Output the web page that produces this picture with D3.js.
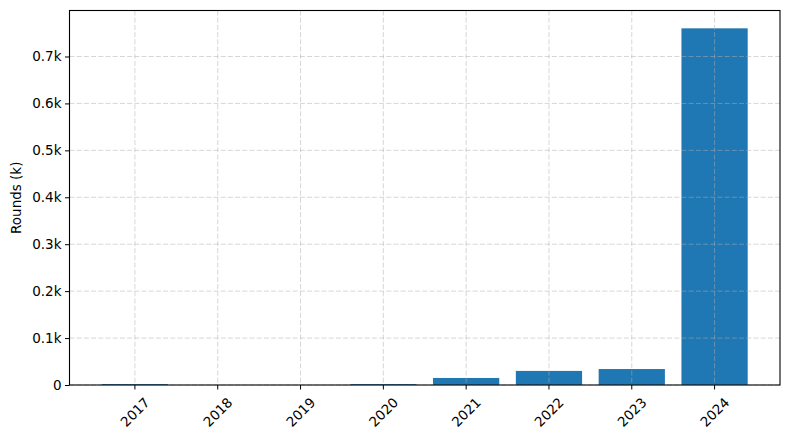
<!DOCTYPE html>
<html>
<head>
<meta charset="utf-8">
<script src="https://cdn.jsdelivr.net/npm/d3@7"></script>
<style>
  body { margin: 0; background: #fff; }
  text { font-family: "DejaVu Sans", sans-serif; }
</style>
</head>
<body>
<div id="chart"></div>
<script>
// data
var years = ["2017", "2018", "2019", "2020", "2021", "2022", "2023", "2024"];
var rounds = [2, 0, 0, 2, 15, 30, 34, 760];
var yTicks = [0, 100, 200, 300, 400, 500, 600, 700];

// set the dimensions and margins of the graph
var W = 790, H = 440;
var margin = {top: 10.5, right: 10, bottom: 55, left: 69.5},
    width = 780 - margin.left,
    height = 385 - margin.top;
var fs = "13.5px";

var svg = d3.select("#chart")
  .append("svg")
    .attr("width", W)
    .attr("height", H)
  .append("g")
    .attr("transform", "translate(" + margin.left + "," + margin.top + ")");

// X scale
var x = d3.scaleBand()
  .range([0, width])
  .domain(years)
  .paddingInner(0.2)
  .paddingOuter(0.39);

// Y scale (5% headroom like the original)
var y = d3.scaleLinear()
  .domain([0, d3.max(rounds) * 1.05])
  .range([height, 0]);

// Bars
svg.selectAll("rect.bar")
  .data(rounds)
  .enter()
  .append("rect")
    .attr("class", "bar")
    .attr("x", function(d, i) { return x(years[i]); })
    .attr("y", function(d) { return y(d); })
    .attr("width", x.bandwidth())
    .attr("height", function(d) { return height - y(d); })
    .attr("fill", "#1f77b4");

// grid (drawn over the bars)
var grid = svg.append("g");
grid.selectAll("line.hg")
  .data(yTicks)
  .enter()
  .append("line")
    .attr("x1", 0).attr("x2", width)
    .attr("y1", function(d) { return y(d); })
    .attr("y2", function(d) { return y(d); });
grid.selectAll("line.vg")
  .data(years)
  .enter()
  .append("line")
    .attr("y1", 0).attr("y2", height)
    .attr("x1", function(d) { return x(d) + x.bandwidth() / 2; })
    .attr("x2", function(d) { return x(d) + x.bandwidth() / 2; });
grid.selectAll("line")
  .attr("stroke", "#b0b0b0")
  .attr("stroke-opacity", 0.5)
  .attr("stroke-width", 1)
  .attr("stroke-dasharray", "5,2.2");

// Axes
var fmt = function(d) { return d === 0 ? "0" : (d / 1000) + "k"; };

var xAxis = svg.append("g")
  .attr("transform", "translate(0," + height + ")")
  .call(d3.axisBottom(x).tickSize(4.5).tickPadding(0).tickSizeOuter(0));
xAxis.selectAll("text")
  .attr("transform", "translate(-3,24)rotate(-45)")
  .attr("dy", "0.35em")
  .style("text-anchor", "middle");

var yAxis = svg.append("g")
  .call(d3.axisLeft(y).tickValues(yTicks).tickFormat(fmt).tickSize(4.5).tickPadding(3.5).tickSizeOuter(0));

[xAxis, yAxis].forEach(function(a) {
  a.select(".domain").remove();
  a.selectAll("text").attr("font-size", fs).attr("fill", "#000")
    .style("font-family", "'DejaVu Sans', sans-serif");
  a.selectAll("line").attr("stroke", "#000").attr("stroke-width", 1);
});

// frame
svg.append("rect")
  .attr("x", 0).attr("y", 0)
  .attr("width", width).attr("height", height)
  .attr("fill", "none")
  .attr("stroke", "#000")
  .attr("stroke-width", 1.1);

// y label
svg.append("text")
  .attr("transform", "translate(" + (16.5 - margin.left) + "," + (height / 2) + ")rotate(-90)")
  .attr("text-anchor", "middle")
  .attr("dy", "0.35em")
  .attr("font-size", fs)
  .text("Rounds (k)");
</script>
</body>
</html>
